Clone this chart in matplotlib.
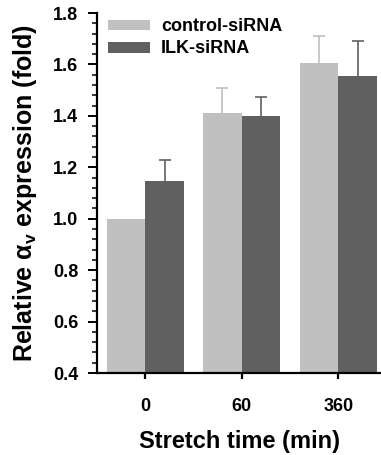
import matplotlib
matplotlib.use("Agg")
import matplotlib.pyplot as plt
import numpy as np
from matplotlib.ticker import MultipleLocator

# data
times = ["0", "60", "360"]
control = [1.0, 1.41, 1.605]
control_err = [0.0, 0.10, 0.105]
ilk = [1.145, 1.40, 1.555]
ilk_err = [0.085, 0.075, 0.135]

c_light = "#c0c0c0"
c_dark = "#606060"

plt.rcParams["font.family"] = ["Liberation Sans", "DejaVu Sans"]
plt.rcParams["font.weight"] = "bold"
plt.rcParams["mathtext.fontset"] = "custom"
plt.rcParams["mathtext.rm"] = "Liberation Sans:bold"
plt.rcParams["mathtext.it"] = "Liberation Sans:bold"

fig = plt.figure(figsize=(3.81, 4.55), dpi=100)
ax = fig.add_axes([0.2546, 0.1802, 0.7454, 0.7912])

x = np.arange(len(times))
w = 0.4
ax.bar(x - w / 2, control, w, color=c_light, label="control-siRNA")
ax.bar(x + w / 2, ilk, w, color=c_dark, label="ILK-siRNA")

# Fehlerbalken nur nach oben (untere Kappe ausblenden)
def up_err(xpos, val, err, col):
    _, caps, _ = ax.errorbar(xpos, val, yerr=[[0], [err]], fmt="none", ecolor=col,
                             elinewidth=1.2, capsize=4.2, capthick=1.2)
    caps[0].set_visible(False)

for i in range(len(times)):
    if control_err[i] > 0:
        up_err(x[i] - w / 2, control[i], control_err[i], c_light)
    if ilk_err[i] > 0:
        up_err(x[i] + w / 2, ilk[i], ilk_err[i], c_dark)

ax.set_ylim(0.4, 1.8)
ax.set_xlim(-0.5, 2.443)
ax.yaxis.set_major_locator(MultipleLocator(0.2))
ax.yaxis.set_minor_locator(MultipleLocator(0.04))
ax.set_yticklabels([f"{v:.1f}" for v in ax.get_yticks()])
ax.set_xticks(x)
ax.set_xticklabels(times)

for s in ["top", "right"]:
    ax.spines[s].set_visible(False)
for s in ["left", "bottom"]:
    ax.spines[s].set_linewidth(1.6)

ax.tick_params(axis="y", which="major", direction="out", length=6.5, width=1.4, labelsize=13, pad=7)
ax.tick_params(axis="y", which="minor", direction="out", length=3.6, width=1.1)
ax.tick_params(axis="x", which="major", direction="out", length=4, width=1.6, labelsize=13, pad=14)

ax.set_xlabel("Stretch time (min)", fontsize=17, fontweight="bold", labelpad=11)
ax.set_ylabel(r"Relative α$_\mathrm{v}$ expression (fold)", fontsize=18, fontweight="bold", labelpad=10)

leg = ax.legend(loc="upper left", bbox_to_anchor=(0.039, 0.985), frameon=False,
                fontsize=13, handlelength=2.33, handleheight=0.55, handletextpad=0.6,
                labelspacing=0.28, borderaxespad=0, borderpad=0)
for t in leg.get_texts():
    t.set_fontweight("bold")

fig.savefig("out.png", dpi=100)
